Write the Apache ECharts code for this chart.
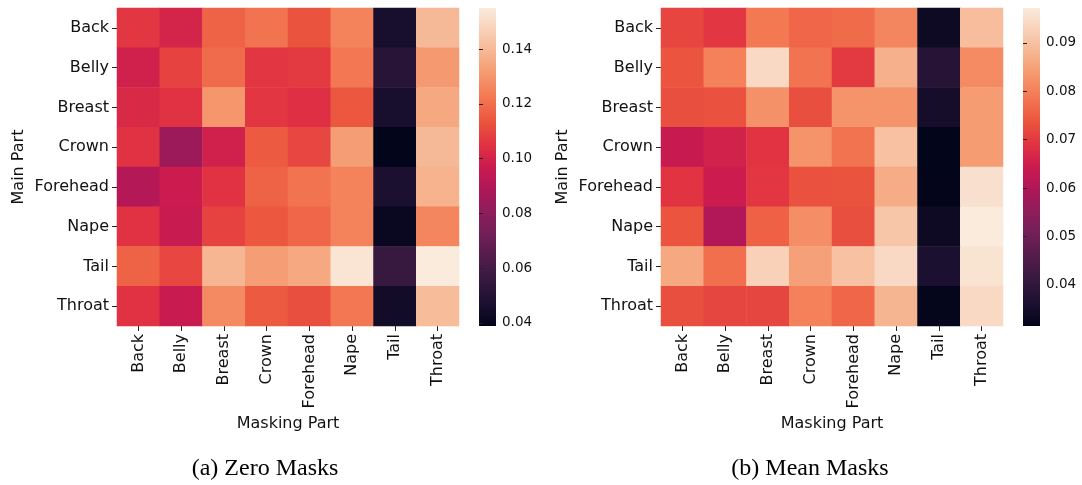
<!DOCTYPE html>
<html>
<head>
<meta charset="utf-8">
<script src="https://cdn.jsdelivr.net/npm/echarts@6/dist/echarts.min.js"></script>
<style>html,body{margin:0;padding:0;background:#fff;}#c{width:1082px;height:485px;}</style>
</head>
<body>
<div id="c"></div>
<script>
const parts = ['Back','Belly','Breast','Crown','Forehead','Nape','Tail','Throat'];

// rows = Main Part, columns = Masking Part
const zeroMasks = [
  [0.106,0.100,0.117,0.121,0.113,0.125,0.046,0.140],
  [0.099,0.109,0.119,0.106,0.107,0.122,0.051,0.131],
  [0.102,0.105,0.130,0.106,0.104,0.114,0.046,0.135],
  [0.105,0.084,0.099,0.115,0.110,0.132,0.0389,0.140],
  [0.091,0.097,0.105,0.117,0.121,0.125,0.047,0.138],
  [0.105,0.096,0.109,0.114,0.118,0.125,0.041,0.126],
  [0.117,0.110,0.139,0.132,0.135,0.153,0.056,0.155],
  [0.105,0.096,0.127,0.115,0.112,0.122,0.044,0.141]
];
const meanMasks = [
  [0.0717,0.0696,0.0788,0.0762,0.0768,0.0808,0.0335,0.0893],
  [0.0736,0.0800,0.0940,0.0780,0.0700,0.0874,0.0380,0.0815],
  [0.0729,0.0732,0.0824,0.0729,0.0827,0.0827,0.0348,0.0840],
  [0.0635,0.0657,0.0690,0.0827,0.0780,0.0900,0.0315,0.0840],
  [0.0690,0.0644,0.0696,0.0732,0.0735,0.0867,0.0316,0.0952],
  [0.0736,0.0604,0.0755,0.0820,0.0729,0.0906,0.0335,0.0972],
  [0.0860,0.0775,0.0926,0.0847,0.0900,0.0940,0.0360,0.0959],
  [0.0729,0.0716,0.0716,0.0800,0.0762,0.0880,0.0318,0.0940]
];
const zeroTicks = [0.04,0.06,0.08,0.10,0.12,0.14];
const meanTicks = [0.04,0.05,0.06,0.07,0.08,0.09];
const captions = ['(a) Zero Masks','(b) Mean Masks'];

// "rocket" colormap, evenly spaced stops
const rocket = ['#03051a','#1c1030','#35193e','#521c4b','#701f57','#8e1d5b','#ad1759','#cb1b4f',
                '#e13342','#eb553e','#f37651','#f5966c','#f6b48f','#f8d0b7','#faebdd'];

function toCells(m){
  const out = [];
  m.forEach((row, r) => row.forEach((v, c) => out.push([c, r, v])));
  return out;
}
function extent(m){
  const flat = m.flat();
  return [Math.min(...flat), Math.max(...flat)];
}
const zExt = extent(zeroMasks), mExt = extent(meanMasks);

const gradient = new echarts.graphic.LinearGradient(0, 1, 0, 0,
  rocket.map((c, i) => ({offset: i / (rocket.length - 1), color: c})));

const FONT = 'DejaVu Sans';
const TXT = '#111';

function heatGrid(left){ return {left: left, top: 8, width: 342, height: 318, containLabel: false}; }
function barGrid(left){ return {left: left, top: 8, width: 17, height: 318, show: true, backgroundColor: gradient, borderWidth: 0}; }

function catX(gi){
  return {
    type: 'category', gridIndex: gi, data: parts, position: 'bottom',
    axisLine: {show: false},
    axisTick: {show: true, alignWithLabel: true, length: 5, lineStyle: {color: '#222', width: 1}},
    axisLabel: {rotate: 90, fontFamily: FONT, fontSize: 16, color: TXT, margin: 8, interval: 0},
    splitArea: {show: false},
    name: 'Masking Part', nameLocation: 'middle', nameGap: 89,
    nameTextStyle: {fontFamily: FONT, fontSize: 16, color: TXT}
  };
}
function catY(gi){
  return {
    type: 'category', gridIndex: gi, data: parts, inverse: true,
    axisLine: {show: false},
    axisTick: {show: true, alignWithLabel: true, length: 5, lineStyle: {color: '#222', width: 1}},
    axisLabel: {fontFamily: FONT, fontSize: 16, color: TXT, margin: 8, interval: 0},
    splitArea: {show: false},
    name: 'Main Part', nameLocation: 'middle', nameGap: 90,
    nameTextStyle: {fontFamily: FONT, fontSize: 16, color: TXT}
  };
}
function barX(gi){ return {type: 'value', gridIndex: gi, show: false, min: 0, max: 1}; }
function barY(gi, ext, ticks){
  return {
    type: 'value', gridIndex: gi, position: 'right', min: ext[0], max: ext[1],
    axisLine: {show: false},
    splitLine: {show: false},
    axisTick: {show: true, length: 4, customValues: ticks, lineStyle: {color: '#222'}},
    axisLabel: {customValues: ticks, formatter: v => v.toFixed(2), fontFamily: FONT, fontSize: 13.5, color: TXT, margin: 6}
  };
}

const option = {
  animation: false,
  backgroundColor: '#fff',
  grid: [heatGrid(117), heatGrid(661), barGrid(479), barGrid(1023)],
  xAxis: [catX(0), catX(1), barX(2), barX(3)],
  yAxis: [catY(0), catY(1), barY(2, zExt, zeroTicks), barY(3, mExt, meanTicks)],
  visualMap: [
    {type: 'continuous', show: false, seriesIndex: 0, min: zExt[0], max: zExt[1], inRange: {color: rocket}},
    {type: 'continuous', show: false, seriesIndex: 1, min: mExt[0], max: mExt[1], inRange: {color: rocket}}
  ],
  series: [
    {type: 'heatmap', xAxisIndex: 0, yAxisIndex: 0, data: toCells(zeroMasks), itemStyle: {borderWidth: 0}, emphasis: {disabled: true}},
    {type: 'heatmap', xAxisIndex: 1, yAxisIndex: 1, data: toCells(meanMasks), itemStyle: {borderWidth: 0}, emphasis: {disabled: true}},
    {type: 'scatter', xAxisIndex: 2, yAxisIndex: 2, data: []},
    {type: 'scatter', xAxisIndex: 3, yAxisIndex: 3, data: []}
  ],
  graphic: [
    {type: 'text', x: 265, y: 469, style: {text: captions[0], font: '24px "Liberation Serif"', fill: '#000', textAlign: 'center', textVerticalAlign: 'middle'}},
    {type: 'text', x: 810, y: 469, style: {text: captions[1], font: '24px "Liberation Serif"', fill: '#000', textAlign: 'center', textVerticalAlign: 'middle'}}
  ]
};
const chart = echarts.init(document.getElementById('c'));
chart.setOption(option);
</script>
</body>
</html>
